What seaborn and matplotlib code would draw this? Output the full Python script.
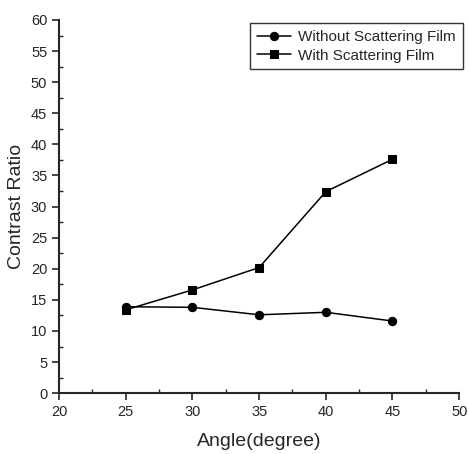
import numpy as np
import pandas as pd
import matplotlib
matplotlib.use('Agg')
import matplotlib.pyplot as plt
import seaborn as sns
from matplotlib.ticker import MultipleLocator

angles = [25, 30, 35, 40, 45]
without_film = [13.9, 13.8, 12.6, 13.0, 11.6]
with_film = [13.4, 16.6, 20.2, 32.4, 37.6]
labels = ['Without Scattering Film', 'With Scattering Film']

df = pd.DataFrame({
    'Angle': angles * 2,
    'Ratio': without_film + with_film,
    'series': [labels[0]] * 5 + [labels[1]] * 5,
})

sns.set_style('ticks')
plt.rcParams['font.family'] = ['Liberation Sans', 'DejaVu Sans']

fig = plt.figure(figsize=(4.69, 4.54), dpi=100)
ax = fig.add_axes([0.126, 0.134, 0.853, 0.822])
sns.lineplot(data=df, x='Angle', y='Ratio', hue='series', style='series',
             markers={labels[0]: 'o', labels[1]: 's'}, dashes=False,
             palette={labels[0]: 'black', labels[1]: 'black'},
             markersize=6, linewidth=1.1, markeredgecolor='black', ax=ax)

ax.set_xlim(20, 50)
ax.set_ylim(0, 60)
ax.xaxis.set_major_locator(MultipleLocator(5))
ax.xaxis.set_minor_locator(MultipleLocator(2.5))
ax.yaxis.set_major_locator(MultipleLocator(5))
ax.yaxis.set_minor_locator(MultipleLocator(2.5))
ax.tick_params(which='major', direction='out', length=5, width=1.2, labelsize=10.5)
ax.tick_params(which='minor', direction='in', length=3, width=1)
sns.despine(ax=ax)
for s in ['left', 'bottom']:
    ax.spines[s].set_linewidth(1.5)

ax.set_xlabel('Angle(degree)', fontsize=14, labelpad=10)
ax.set_ylabel('Contrast Ratio', fontsize=14, labelpad=4)

leg = ax.legend(loc='upper right', bbox_to_anchor=(1.028, 1.012), frameon=True,
                fancybox=False, edgecolor='black', fontsize=11,
                handlelength=2.2, borderpad=0.45, labelspacing=0.3,
                handletextpad=0.5)
leg.get_frame().set_linewidth(1.0)

fig.savefig('out.png', dpi=100)
